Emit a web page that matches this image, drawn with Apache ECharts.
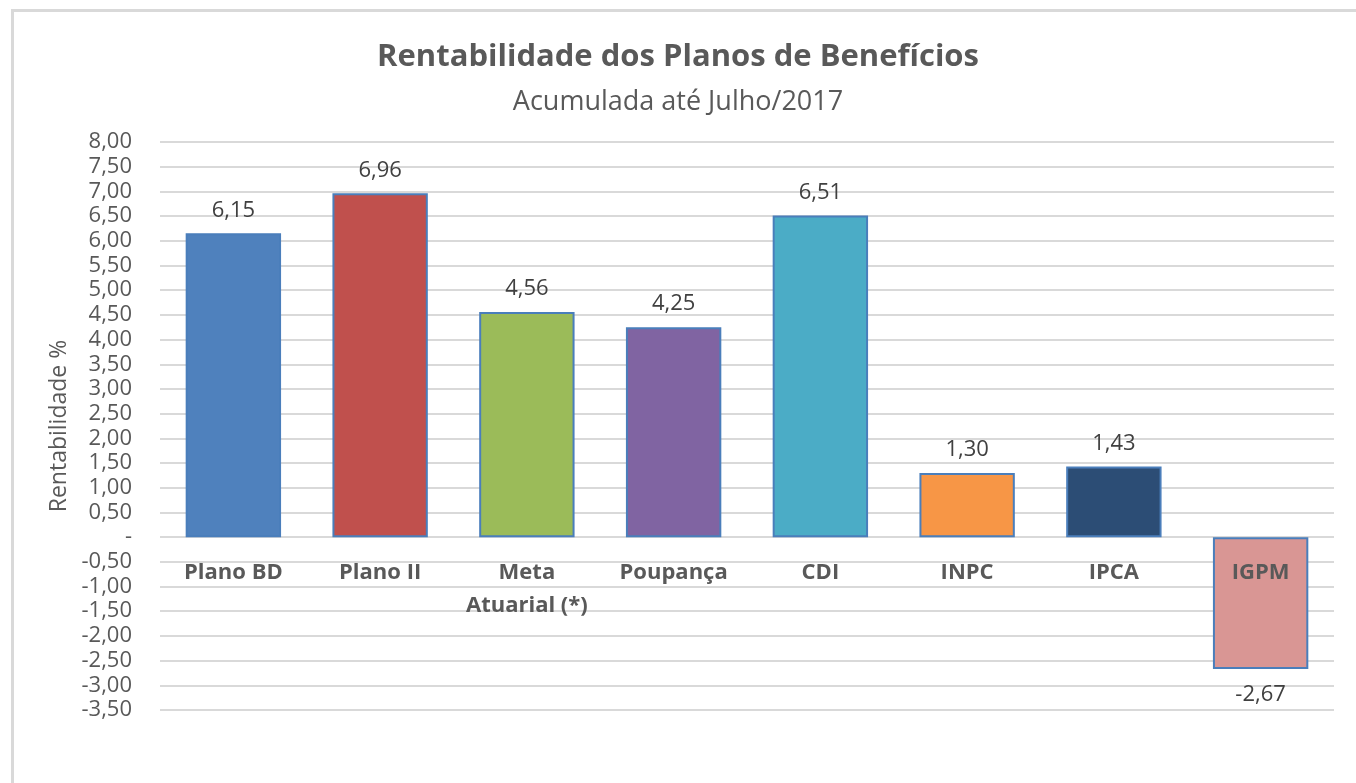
<!DOCTYPE html>
<html>
<head>
<meta charset="utf-8">
<script src="https://cdn.jsdelivr.net/npm/echarts@6/dist/echarts.min.js"></script>
<style>
  html, body { margin: 0; padding: 0; background: #fff; }
  #chart { width: 1356px; height: 783px; }
</style>
</head>
<body>
<div id="chart"></div>
<script>
var categories = ['Plano BD', 'Plano II', 'Meta\nAtuarial (*)', 'Poupança', 'CDI', 'INPC', 'IPCA', 'IGPM'];
var values = [6.15, 6.96, 4.56, 4.25, 6.51, 1.30, 1.43, -2.67];
var barColors = ['#4f81bd', '#c0504d', '#9bbb59', '#8064a2', '#4bacc6', '#f79646', '#2c4d75', '#d99694'];

var font = '"Open Sans", sans-serif';

function fmt(v) {
  if (Math.abs(v) < 1e-9) return '-';
  return v.toFixed(2).replace('.', ',');
}

var chart = echarts.init(document.getElementById('chart'));

var option = {
  backgroundColor: '#fff',
  animation: false,
  title: {
    text: 'Rentabilidade dos Planos de Benefícios',
    subtext: 'Acumulada até Julho/2017',
    left: 'center',
    top: 34,
    itemGap: 11,
    textStyle: { fontFamily: font, fontSize: 31, lineHeight: 36, fontWeight: 'bold', color: '#595959' },
    subtextStyle: { fontFamily: font, fontSize: 27, lineHeight: 32, color: '#595959' }
  },
  graphic: [{
    type: 'rect',
    left: 10, top: 8,
    shape: { width: 1400, height: 800 },
    style: { fill: 'none', stroke: '#d9d9d9', lineWidth: 3 },
    z: -1
  }],
  grid: { left: 160, right: 22, top: 142, bottom: 73, containLabel: false, outerBoundsMode: 'none' },
  xAxis: {
    type: 'category',
    data: categories,
    z: 10,
    axisLine: { show: false, onZero: false },
    axisTick: { show: false },
    axisLabel: {
      // labels sit just under the zero line, as in the original
      margin: -154,
      interval: 0,
      fontFamily: font,
      fontSize: 22,
      fontWeight: 'bold',
      color: '#595959',
      lineHeight: 33
    }
  },
  yAxis: {
    type: 'value',
    min: -3.5,
    max: 8,
    interval: 0.5,
    name: 'Rentabilidade %',
    nameLocation: 'middle',
    nameGap: 88,
    nameTextStyle: { fontFamily: font, fontSize: 23, color: '#595959' },
    axisLine: { show: false },
    axisTick: { show: false },
    axisLabel: {
      margin: 28,
      fontFamily: font,
      fontSize: 22,
      color: '#595959',
      formatter: fmt
    },
    splitLine: { lineStyle: { color: '#d9d9d9', width: 2 } }
  },
  series: [{
    type: 'bar',
    barWidth: '65%',
    data: values.map(function (v, i) {
      return {
        value: v,
        itemStyle: { color: barColors[i] },
        label: v < 0 ? { position: 'bottom', distance: 15 } : { position: 'top' }
      };
    }),
    itemStyle: { borderColor: '#4a7ebb', borderWidth: 2 },
    label: {
      show: true,
      distance: 12,
      fontFamily: font,
      fontSize: 22,
      color: '#404040',
      formatter: function (p) { return fmt(p.value); }
    }
  }]
};

chart.setOption(option);
</script>
</body>
</html>
